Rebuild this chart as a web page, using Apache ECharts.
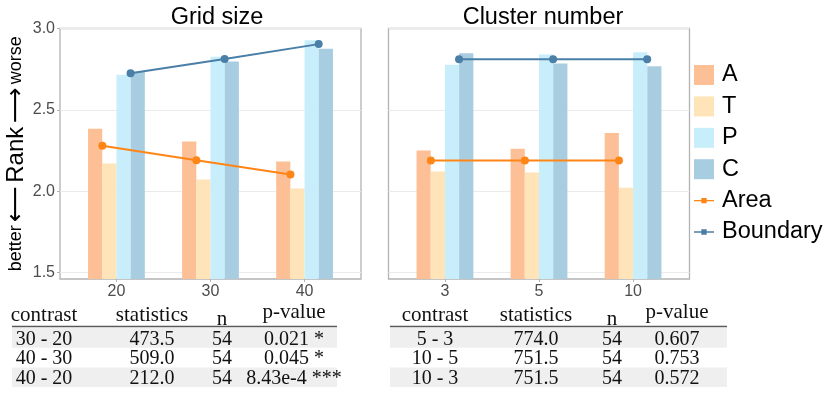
<!DOCTYPE html>
<html>
<head>
<meta charset="utf-8">
<script src="https://cdn.jsdelivr.net/npm/echarts@6/dist/echarts.min.js"></script>
<style>
html, body { margin: 0; padding: 0; background: #fff; }
#chart { width: 830px; height: 397px; }
</style>
</head>
<body>
<div id="chart"></div>
<script>
// categories
var gridCats = ['20', '30', '40'];
var clusterCats = ['3', '5', '10'];
var yTicks = [1.5, 2.0, 2.5, 3.0];

// mean ranks, Grid size
var gridA = [2.383, 2.305, 2.182];
var gridT = [2.170, 2.072, 2.016];
var gridP = [2.715, 2.826, 2.928];
var gridC = [2.734, 2.797, 2.875];
var gridArea = [2.279, 2.190, 2.103];
var gridBoundary = [2.725, 2.813, 2.904];

// mean ranks, Cluster number
var clusterA = [2.250, 2.260, 2.357];
var clusterT = [2.121, 2.115, 2.021];
var clusterP = [2.777, 2.840, 2.854];
var clusterC = [2.848, 2.785, 2.768];
var clusterArea = [2.189, 2.189, 2.189];
var clusterBoundary = [2.811, 2.811, 2.811];

// test tables
var tableHead = ['contrast', 'statistics', 'n', 'p-value'];
var gridTable = [
    ['30 - 20', '473.5', '54', '0.021 *'],
    ['40 - 30', '509.0', '54', '0.045 *'],
    ['40 - 20', '212.0', '54', '8.43e-4 ***']
];
var clusterTable = [
    ['5 - 3', '774.0', '54', '0.607'],
    ['10 - 5', '751.5', '54', '0.753'],
    ['10 - 3', '751.5', '54', '0.572']
];

var colors = { A: '#FDC096', T: '#FEE4B8', P: '#C9EEFB', C: '#A8CDE1', Area: '#FF8517', Boundary: '#4A7FA7' };
var sans = 'Liberation Sans';
var serif = 'Liberation Serif';
var barW = 14.2;
var lineOffset = 0.15;

var chart = echarts.init(document.getElementById('chart'));

function xAxisOf(i, cats) {
    return {
        type: 'value', gridIndex: i, min: 0.4, max: 3.6,
        minInterval: 1, maxInterval: 1,
        axisLine: { show: false },
        splitLine: { show: false },
        axisTick: { show: true, customValues: [1, 2, 3], length: 3, lineStyle: { color: '#B3B3B3' } },
        axisLabel: {
            customValues: [1, 2, 3], margin: 5,
            color: '#4D4D4D', fontSize: 16, fontFamily: sans,
            formatter: function (v) { return cats[Math.round(v) - 1] || ''; }
        }
    };
}

function yAxisOf(i, showLabels) {
    var ax = {
        type: 'value', gridIndex: i, min: 1.46, max: 3.0,
        minInterval: 0.25, maxInterval: 0.25,
        axisLine: { show: false },
        splitLine: { show: true, lineStyle: { color: '#EBEBEB', width: 1 } },
        axisTick: { show: showLabels, customValues: yTicks, length: 3, lineStyle: { color: '#B3B3B3' } },
        axisLabel: {
            show: showLabels, customValues: yTicks, margin: 5,
            color: '#4D4D4D', fontSize: 16, fontFamily: sans,
            formatter: function (v) { return v.toFixed(1); }
        }
    };
    if (showLabels) {
        ax.name = '{s|better} {a|\u27F5} {r|Rank} {a|\u27F6} {s|worse}';
        ax.nameLocation = 'middle';
        ax.nameRotate = 90;
        ax.nameGap = 31;
        ax.nameTextStyle = {
            color: '#000',
            rich: {
                s: { fontSize: 18, fontFamily: sans, color: '#000' },
                r: { fontSize: 24, fontFamily: sans, color: '#000' },
                a: { fontSize: 25, fontFamily: 'DejaVu Sans', color: '#000' }
            }
        };
    }
    return ax;
}

function bars(name, values, i) {
    return {
        name: name, type: 'bar', xAxisIndex: i, yAxisIndex: i,
        barWidth: barW, barGap: '0%',
        itemStyle: { color: colors[name] },
        data: values.map(function (v, k) { return [k + 1, v]; })
    };
}

function line(name, values, i, off) {
    return {
        name: name, type: 'line', xAxisIndex: i, yAxisIndex: i, z: 5,
        symbol: 'circle', symbolSize: 8,
        lineStyle: { color: colors[name], width: 2 },
        itemStyle: { color: colors[name] },
        data: values.map(function (v, k) { return [k + 1 + off, v]; })
    };
}

// table drawn as graphic elements
function tableGraphic(x0, x1, centers, rows) {
    var els = [];
    var top = 328, rowH = 19.7;
    [0, 2].forEach(function (r) {
        els.push({ type: 'rect', shape: { x: x0, y: top + r * rowH, width: x1 - x0, height: rowH }, style: { fill: '#EFEFEF' } });
    });
    els.push({ type: 'line', shape: { x1: x0, y1: 326.5, x2: x1, y2: 326.5 }, style: { stroke: '#5A5A5A', lineWidth: 1.6 } });
    var headDy = [0, 0, 4, -3];
    tableHead.forEach(function (h, c) {
        els.push({ type: 'text', x: centers[c], y: 315 + headDy[c], style: { text: h, font: '21px "' + serif + '"', fill: '#111', align: 'center', verticalAlign: 'middle' } });
    });
    rows.forEach(function (row, r) {
        row.forEach(function (cell, c) {
            els.push({ type: 'text', x: centers[c], y: top + r * rowH + rowH / 2 + 1.5, style: { text: cell, font: '20px "' + serif + '"', fill: '#111', align: 'center', verticalAlign: 'middle' } });
        });
    });
    return els;
}

var lineIcon = 'path://M0,2.3L20,2.3L20,3.7L0,3.7Z M7.3,0.3L12.7,0.3L12.7,5.7L7.3,5.7Z';

var option = {
    animation: false,
    backgroundColor: '#fff',
    title: [
        { text: 'Grid size', left: 212, top: 1, textAlign: 'center', textStyle: { fontSize: 23.5, fontWeight: 'normal', fontFamily: sans, color: '#000' } },
        { text: 'Cluster number', left: 538, top: 1, textAlign: 'center', textStyle: { fontSize: 23.5, fontWeight: 'normal', fontFamily: sans, color: '#000' } }
    ],
    legend: {
        orient: 'vertical', left: 694, top: 63, padding: 0,
        itemWidth: 20, itemHeight: 20, itemGap: 7.4,
        textStyle: { fontSize: 23.5, fontFamily: sans, color: '#000', lineHeight: 20, padding: [0, 0, 0, 3] },
        data: [
            { name: 'A', icon: 'rect' },
            { name: 'T', icon: 'rect' },
            { name: 'P', icon: 'rect' },
            { name: 'C', icon: 'rect' },
            { name: 'Area', icon: lineIcon, itemStyle: { borderWidth: 0 } },
            { name: 'Boundary', icon: lineIcon, itemStyle: { borderWidth: 0 } }
        ]
    },
    grid: [
        { left: 60, top: 28.5, width: 301, height: 250.5, show: true, borderColor: '#B3B3B3', borderWidth: 1.3 },
        { left: 388.5, top: 28.5, width: 301, height: 250.5, show: true, borderColor: '#B3B3B3', borderWidth: 1.3 }
    ],
    xAxis: [xAxisOf(0, gridCats), xAxisOf(1, clusterCats)],
    yAxis: [yAxisOf(0, true), yAxisOf(1, false)],
    series: [
        bars('A', gridA, 0), bars('T', gridT, 0), bars('P', gridP, 0), bars('C', gridC, 0),
        line('Area', gridArea, 0, -lineOffset), line('Boundary', gridBoundary, 0, lineOffset),
        bars('A', clusterA, 1), bars('T', clusterT, 1), bars('P', clusterP, 1), bars('C', clusterC, 1),
        line('Area', clusterArea, 1, -lineOffset), line('Boundary', clusterBoundary, 1, lineOffset)
    ],
    graphic: tableGraphic(12, 337, [44, 152, 222, 294], gridTable)
        .concat(tableGraphic(390, 727, [435, 536, 612, 677], clusterTable))
};

chart.setOption(option);
</script>
</body>
</html>
